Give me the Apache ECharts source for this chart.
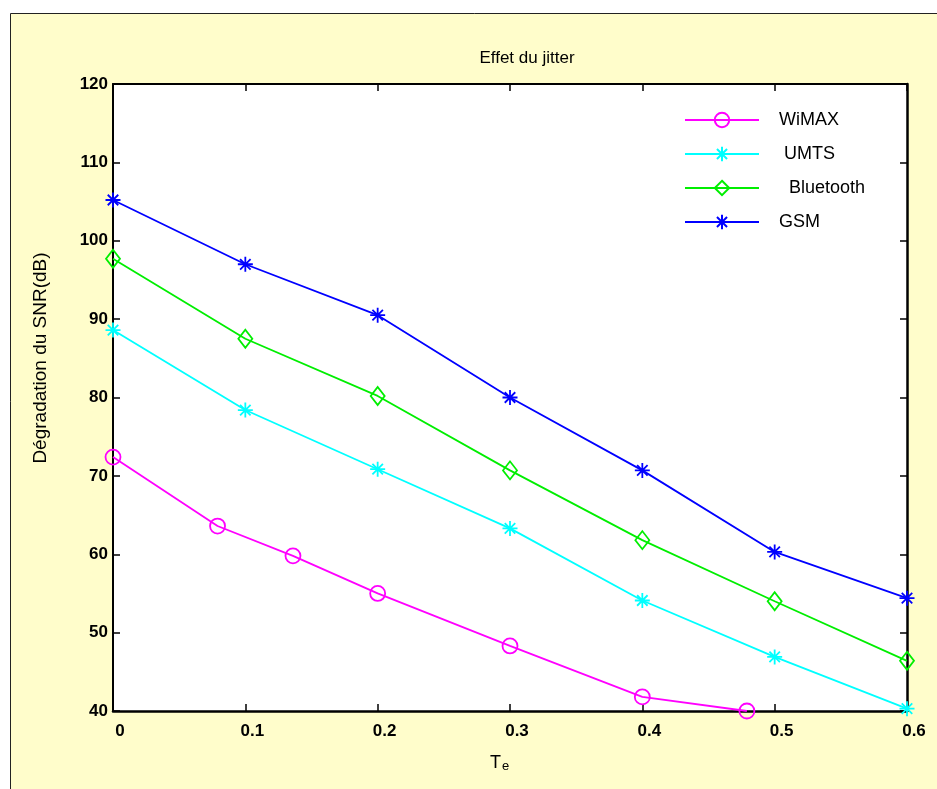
<!DOCTYPE html>
<html>
<head>
<meta charset="utf-8">
<script src="https://cdn.jsdelivr.net/npm/echarts@6/dist/echarts.min.js"></script>
<style>
html,body{margin:0;padding:0;background:#fff;}
#c{width:937px;height:789px;}
</style>
</head>
<body>
<div id="c"></div>
<script>
// ---- data ----
const xCommon = [0, 0.1, 0.2, 0.3, 0.4, 0.5, 0.6];
const gsm = [105.2, 97.0, 90.5, 80.0, 70.7, 60.3, 54.4];
const bluetooth = [97.7, 87.5, 80.2, 70.7, 61.8, 54.0, 46.4];
const umts = [88.6, 78.4, 70.85, 63.3, 54.1, 46.9, 40.3];
const wimaxX = [0, 0.079, 0.136, 0.2, 0.3, 0.4, 0.479];
const wimax = [72.4, 63.6, 59.8, 55.0, 48.3, 41.8, 40.0];
const seriesNames = ['WiMAX', ' UMTS', '  Bluetooth', 'GSM'];
const titleText = 'Effet du jitter';
const yTitle = 'Dégradation du SNR(dB)';

function pairs(xs, ys) { return xs.map((x, i) => [x, ys[i]]); }

const STAR = 'path://M0,-10L0,10M-10,0L10,0M-7,-7L7,7M-7,7L7,-7';
const FONT = 'Liberation Sans, Arial, Helvetica, sans-serif';

function mkSeries(name, data, color, symbol, size) {
  return {
    name: name,
    type: 'line',
    data: data,
    symbol: symbol,
    symbolSize: size,
    showAllSymbol: true,
    lineStyle: { color: color, width: 1.8 },
    itemStyle: { color: 'rgba(0,0,0,0)', borderColor: color, borderWidth: 1.8 },
    emphasis: { disabled: true },
    animation: false,
    z: 3
  };
}

const chart = echarts.init(document.getElementById('c'));
chart.setOption({
  animation: false,
  backgroundColor: '#ffffff',
  graphic: [
    {
      type: 'rect', z: -100, silent: true,
      shape: { x: 10.5, y: 13.5, width: 1000, height: 800 },
      style: { fill: '#FFFDCB', stroke: '#222', lineWidth: 1 }
    },
    {
      type: 'text', silent: true,
      rotation: Math.PI / 2,
      x: 41, y: 358,
      style: { text: yTitle, font: '19px ' + FONT, fill: '#000', align: 'center', verticalAlign: 'middle' }
    },
    {
      type: 'text', silent: true,
      x: 490, y: 762,
      style: {
        text: '{a|T}{b|e}',
        rich: {
          a: { fontSize: 18, fontFamily: FONT, color: '#000', verticalAlign: 'bottom' },
          b: { fontSize: 13, fontFamily: FONT, color: '#000', padding: [8, 0, 0, 1] }
        },
        verticalAlign: 'middle'
      }
    }
  ],
  title: {
    text: titleText,
    left: 522, top: 45,
    textAlign: 'center',
    textStyle: { fontSize: 17, fontWeight: 'normal', fontFamily: FONT, color: '#000' }
  },
  legend: {
    orient: 'vertical',
    left: 679, top: 106,
    itemWidth: 74, itemHeight: 18, itemGap: 16,
    data: seriesNames,
    textStyle: { fontSize: 18, fontFamily: FONT, color: '#000', padding: [0, 0, 0, 15] },
    selectedMode: false
  },
  grid: {
    left: 113, top: 84, right: 30, bottom: 78,
    show: true, backgroundColor: '#ffffff', borderWidth: 0
  },
  xAxis: [
    {
      type: 'value', position: 'bottom', min: 0, max: 0.6, interval: 0.1,
      axisLine: { show: true, onZero: false, lineStyle: { color: '#000', width: 2.5 } },
      axisTick: { show: true, inside: true, length: 7, lineStyle: { color: '#000', width: 1.5 } },
      axisLabel: { show: true, margin: 12, fontSize: 17, fontWeight: 'bold', fontFamily: FONT, color: '#000', padding: [0, 0, 0, 14],
        formatter: v => String(Math.round(v * 10) / 10) },
      splitLine: { show: false }
    },
    {
      type: 'value', position: 'top', min: 0, max: 0.6, interval: 0.1,
      axisLine: { show: true, onZero: false, lineStyle: { color: '#000', width: 2 } },
      axisTick: { show: true, inside: true, length: 7, lineStyle: { color: '#000', width: 1.5 } },
      axisLabel: { show: false },
      splitLine: { show: false }
    }
  ],
  yAxis: [
    {
      type: 'value', position: 'left', min: 40, max: 120, interval: 10,
      axisLine: { show: true, onZero: false, lineStyle: { color: '#000', width: 2 } },
      axisTick: { show: true, inside: true, length: 7, lineStyle: { color: '#000', width: 1.5 } },
      axisLabel: { show: true, margin: 5, fontSize: 17, fontWeight: 'bold', fontFamily: FONT, color: '#000' },
      splitLine: { show: false }
    },
    {
      type: 'value', position: 'right', min: 38.1, max: 118.1, interval: 10,
      axisLine: { show: true, onZero: false, lineStyle: { color: '#000', width: 2.5 } },
      axisTick: { show: true, inside: true, length: 7, lineStyle: { color: '#000', width: 1.5 } },
      axisLabel: { show: false },
      splitLine: { show: false }
    }
  ],
  series: [
    mkSeries(seriesNames[0], pairs(wimaxX, wimax), '#FF00FF', 'circle', 15),
    mkSeries(seriesNames[1], pairs(xCommon, umts), '#00FFFF', STAR, 15),
    mkSeries(seriesNames[2], pairs(xCommon, bluetooth), '#00EE00', 'diamond', [14, 18]),
    mkSeries(seriesNames[3], pairs(xCommon, gsm), '#0000FF', STAR, 15)
  ]
});
</script>
</body>
</html>
